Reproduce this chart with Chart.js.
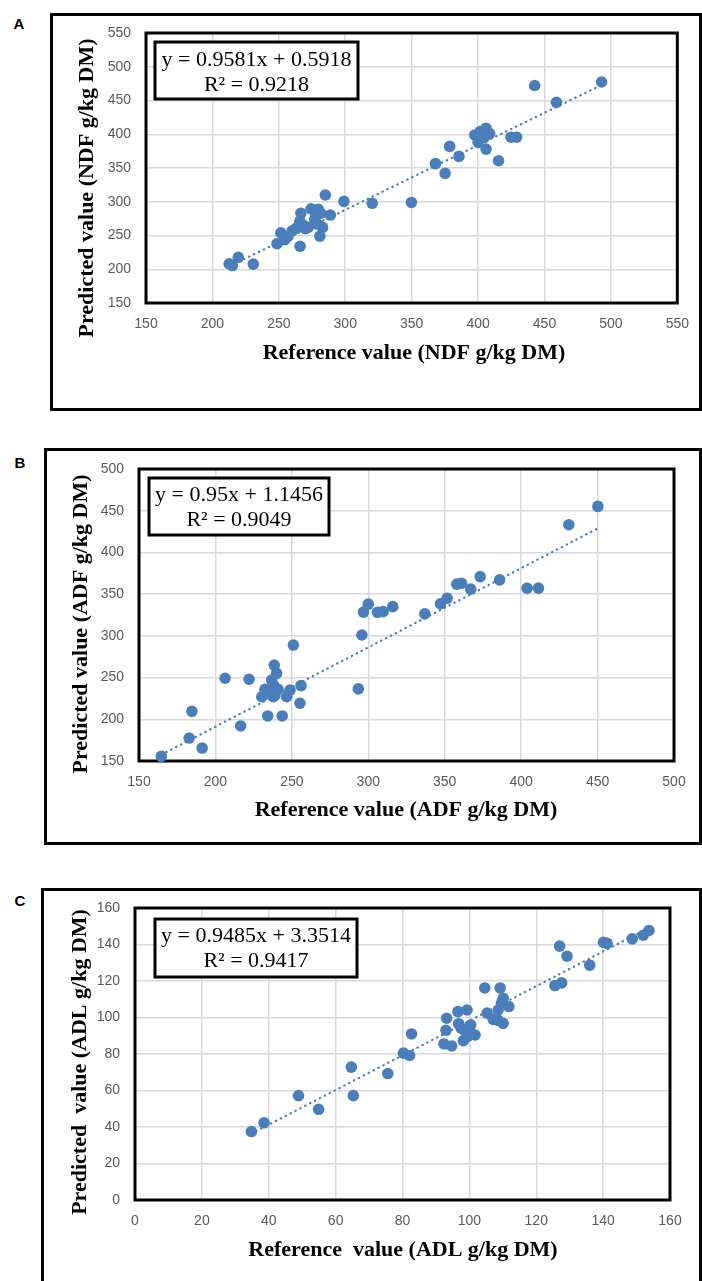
<!DOCTYPE html>
<html>
<head>
<meta charset="utf-8">
<title>NIRS calibration – reference vs predicted</title>
<script src="https://cdn.jsdelivr.net/npm/chart.js@4.4.1/dist/chart.umd.min.js"></script>
<style>
  html, body { margin: 0; padding: 0; background: #fff; }
  body { width: 702px; height: 1281px; position: relative; overflow: hidden; }
  .frame { position: absolute; border: 3px solid #000; box-sizing: border-box; }
  .tag { position: absolute; font: bold 15px 'Liberation Sans', Arial, sans-serif; color: #000;
         transform: translate(-50%, -50%); }
  canvas { position: absolute; left: 0; }
</style>
</head>
<body>

<div class="frame" style="left:50px;top:13px;width:652px;height:398px"></div>
<div class="frame" style="left:44px;top:448px;width:658px;height:397px"></div>
<div class="frame" style="left:41px;top:888px;width:661px;height:420px"></div>

<div class="tag" style="left:19px;top:23px">A</div>
<div class="tag" style="left:20px;top:462px">B</div>
<div class="tag" style="left:20px;top:900px">C</div>

<canvas id="chartNDF" width="702" height="430" style="top:0"></canvas>
<canvas id="chartADF" width="702" height="420" style="top:430px"></canvas>
<canvas id="chartADL" width="702" height="431" style="top:850px"></canvas>

<script>
'use strict';

// ── DATA ────────────────────────────────────────────────────────
// A – NDF (g/kg DM)
var ndfRef  = [212.6, 215, 219.5, 230.8, 248.6, 251.5, 254.5, 256.8, 260, 263.2,
               266, 266.6, 265.8, 270, 268.5, 272, 274.3, 277, 278, 279.7,
               279, 280.9, 282.9, 281.5, 285, 288.8, 299, 320.3, 349.8, 367.9,
               375.2, 378.6, 385.6, 397.5, 400, 401.5, 403, 404.5, 406, 408.7,
               406, 415.4, 424.8, 429, 442.6, 459, 493];
var ndfPred = [208, 205.5, 217.7, 207.6, 237.8, 254, 243.8, 248.5, 257, 261,
               234, 283, 271, 260, 265, 262, 289.5, 274, 281, 289,
               267, 249, 262, 283, 310, 280.3, 300.6, 297.7, 299, 356.5,
               342, 382, 367.2, 399, 388, 404, 396, 395, 409, 401,
               378, 360.8, 395.6, 395.6, 472.2, 447.3, 477.4];
var ndfTicks = [150, 550, 50];            // min, max, step (both axes)
var ndfFit   = [0.9581, 0.5918];          // slope, intercept

// B – ADF (g/kg DM)
var adfRef  = [164.6, 182.8, 184.6, 191.3, 206.3, 216.5, 222, 230.3, 232.4, 233.5,
               234.2, 235.7, 236.8, 237.9, 238, 238.5, 239, 240, 241, 243.7,
               246.6, 248.8, 251, 255.3, 256, 293.5, 295.8, 296.8, 300, 306,
               309.7, 316, 337, 347.2, 351.6, 357.9, 361, 367, 373.2, 385.9,
               403.9, 411.3, 431.2, 450.2];
var adfPred = [155.5, 177.5, 209.5, 165.5, 249.2, 192, 248, 227, 236, 231,
               204, 235, 247, 227, 241, 265, 229, 255, 236, 204,
               227, 235, 289, 219.2, 240.3, 236.4, 301, 328.5, 338, 328.2,
               329, 335, 326.4, 338.5, 345, 362, 363, 356, 371, 367.1,
               357.1, 357.2, 433.2, 455.2];
var adfTicks = [150, 500, 50];
var adfFit   = [0.95, 1.1456];

// C – ADL (g/kg DM)
var adlRef  = [34.8, 38.6, 48.9, 54.9, 64.7, 65.3, 75.6, 80.3, 82.1, 82.7,
               92.4, 93, 93.2, 94.7, 96.6, 96.8, 97.5, 98.2, 99.3, 98.8,
               99.5, 100.4, 99.9, 101.7, 104.6, 105.3, 107.1, 108.6, 109.2, 109.6,
               110.1, 110.1, 108.6, 111.8, 125.6, 127.6, 127, 129.2, 136, 140.1,
               141.2, 148.7, 152, 153.7];
var adlPred = [37.5, 42.3, 57.2, 49.7, 72.8, 57.2, 69.3, 80.5, 79.2, 91,
               85.5, 93, 99.6, 84.4, 103.2, 96.6, 94.2, 87.3, 104.1, 92.4,
               89.6, 95.9, 93.3, 90.4, 116.2, 102.4, 99, 104.1, 116.2, 107.8,
               96.8, 110.5, 98.4, 106, 117.5, 119, 139.1, 133.6, 128.7, 141.2,
               140.6, 143.1, 145.1, 147.7];
var adlTicks = [0, 160, 20];
var adlFit   = [0.9485, 3.3514];

// ── STYLE ───────────────────────────────────────────────────────
var DOT_COLOR  = '#4A7EBB';
var GRID_COLOR = '#d9d9d9';
var TICK_FONT  = { family: "'Liberation Sans', Arial, sans-serif", size: 14 };
var SERIF      = "'Liberation Serif', 'Times New Roman', serif";

// ── PLUGIN: plot frame, equation box, axis titles ───────────────
var panelDecor = {
  id: 'panelDecor',
  beforeDatasetsDraw: function (chart) {
    var a = chart.chartArea, ctx = chart.ctx;
    ctx.save();
    ctx.strokeStyle = '#000';
    ctx.lineWidth = 3;
    ctx.strokeRect(a.left, a.top, a.right - a.left, a.bottom - a.top);
    ctx.restore();
  },
  afterDraw: function (chart, args, o) {
    var ctx = chart.ctx, b = o.eqBox;
    ctx.save();

    // equation box
    ctx.fillStyle = '#fff';
    ctx.fillRect(b.left, b.top, b.right - b.left, b.bottom - b.top);
    ctx.strokeStyle = '#000';
    ctx.lineWidth = 3;
    ctx.strokeRect(b.left, b.top, b.right - b.left, b.bottom - b.top);
    ctx.fillStyle = '#000';
    ctx.font = '22px ' + SERIF;
    ctx.textAlign = 'center';
    ctx.textBaseline = 'middle';
    var cx = (b.left + b.right) / 2;
    ctx.fillText(o.eqText[0], cx, b.line1);
    ctx.fillText(o.eqText[1], cx, b.line2);

    // axis titles
    ctx.font = 'bold 22px ' + SERIF;
    ctx.fillText(o.xTitle, o.xTitlePos[0], o.xTitlePos[1]);
    ctx.translate(o.yTitlePos[0], o.yTitlePos[1]);
    ctx.rotate(-Math.PI / 2);
    ctx.fillText(o.yTitle, 0, 0);
    ctx.restore();
  }
};

// ── BUILD ONE PANEL ─────────────────────────────────────────────
function makePanel(id, ref, pred, ticks, fit, cfg) {
  var canvas = document.getElementById(id);
  var W = canvas.width, H = canvas.height, area = cfg.area;

  var points = ref.map(function (x, i) { return { x: x, y: pred[i] }; });
  var xMin = Math.min.apply(null, ref), xMax = Math.max.apply(null, ref);
  var trend = [
    { x: xMin, y: fit[0] * xMin + fit[1] },
    { x: xMax, y: fit[0] * xMax + fit[1] }
  ];

  var sign = fit[1] < 0 ? ' − ' : ' + ';
  var eqText = [
    'y = ' + fit[0] + 'x' + sign + Math.abs(fit[1]),
    'R² = ' + cfg.r2
  ];

  function axis(pos) {
    return {
      type: 'linear',
      position: pos,
      min: ticks[0],
      max: ticks[1],
      ticks: { stepSize: ticks[2], color: '#595959', font: TICK_FONT,
               padding: pos === 'left' ? 15 : 13 },
      grid: { color: GRID_COLOR, lineWidth: 1.5, drawTicks: false },
      border: { display: false },
      afterFit: function (scale) {
        if (pos === 'left') scale.width = area.left;
        else scale.height = H - area.bottom;
      }
    };
  }

  return new Chart(canvas.getContext('2d'), {
    type: 'scatter',
    data: {
      datasets: [
        {
          data: trend,
          showLine: true,
          borderColor: DOT_COLOR,
          borderWidth: 2.2,
          borderDash: [0.5, 5],
          borderCapStyle: 'round',
          pointRadius: 0,
          order: 0
        },
        {
          data: points,
          backgroundColor: DOT_COLOR,
          borderColor: DOT_COLOR,
          borderWidth: 0,
          pointRadius: 5.8,
          clip: 8,
          order: 1
        }
      ]
    },
    options: {
      responsive: false,
      animation: false,
      layout: { padding: { left: 0, top: area.top, right: W - area.right, bottom: 0 } },
      plugins: {
        legend: { display: false },
        tooltip: { enabled: false },
        panelDecor: {
          eqBox: cfg.eqBox,
          eqText: eqText,
          xTitle: cfg.xTitle,
          yTitle: cfg.yTitle,
          xTitlePos: cfg.xTitlePos,
          yTitlePos: cfg.yTitlePos
        }
      },
      scales: { x: axis('bottom'), y: axis('left') }
    },
    plugins: [panelDecor]
  });
}

// ── INIT ────────────────────────────────────────────────────────
makePanel('chartNDF', ndfRef, ndfPred, ndfTicks, ndfFit, {
  r2: '0.9218',
  area: { left: 146, right: 681, top: 33, bottom: 303 },
  eqBox: { left: 155, top: 42, right: 358, bottom: 99, line1: 60, line2: 85 },
  xTitle: 'Reference value (NDF g/kg DM)',
  yTitle: 'Predicted value (NDF g/kg DM)',
  xTitlePos: [414, 353],
  yTitlePos: [87, 188]
});

makePanel('chartADF', adfRef, adfPred, adfTicks, adfFit, {
  r2: '0.9049',
  area: { left: 139, right: 674, top: 39, bottom: 331 },
  eqBox: { left: 149, top: 48, right: 329, bottom: 105, line1: 65, line2: 90 },
  xTitle: 'Reference value (ADF g/kg DM)',
  yTitle: 'Predicted value (ADF g/kg DM)',
  xTitlePos: [406, 380],
  yTitlePos: [81, 194]
});

makePanel('chartADL', adlRef, adlPred, adlTicks, adlFit, {
  r2: '0.9417',
  area: { left: 135, right: 670, top: 58, bottom: 350 },
  eqBox: { left: 155, top: 69, right: 357, bottom: 127, line1: 86, line2: 111 },
  xTitle: 'Reference  value (ADL g/kg DM)',
  yTitle: 'Predicted  value (ADL g/kg DM)',
  xTitlePos: [403, 400],
  yTitlePos: [80, 212]
});
</script>
</body>
</html>
